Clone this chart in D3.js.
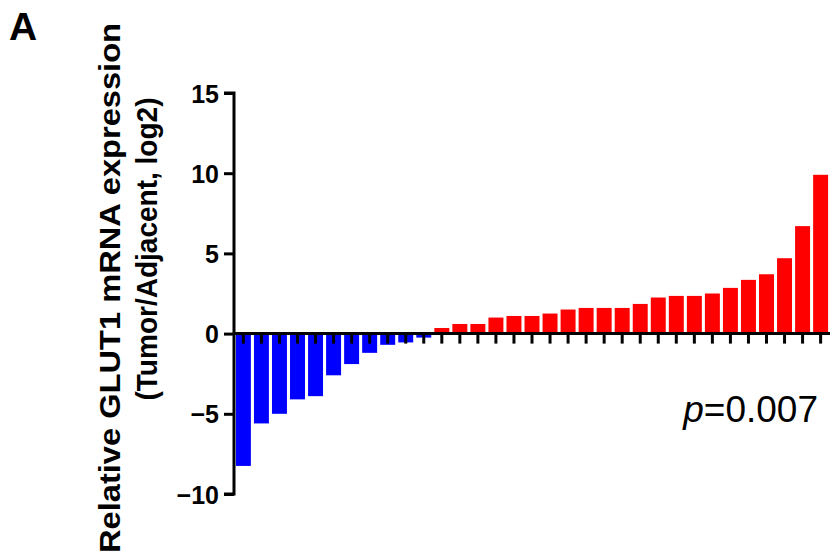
<!DOCTYPE html>
<html lang="en">
    <head>
        <meta charset="UTF-8" />
        <title>GLUT1 mRNA expression</title>
        <script src="https://cdn.jsdelivr.net/npm/d3@7"></script>
    </head>
    <body style="padding: 0; margin: 0; background-color: #fff;">
        <script>
            // 每个样本的 log2(肿瘤/癌旁) 值，已按大小排序
            const samples = d3.range(1, 34).map((d) => 'S' + d);
            const values = [
                -8.25, -5.6, -5.0, -4.1, -3.9, -2.6, -1.9, -1.2, -0.7, -0.55, -0.25,
                0.35, 0.6, 0.6, 1.0, 1.1, 1.1, 1.25, 1.5, 1.6, 1.6, 1.6,
                1.85, 2.25, 2.35, 2.35, 2.5, 2.85, 3.35, 3.7, 4.7, 6.7, 9.9
            ];
            const yTicks = [-10, -5, 0, 5, 10, 15];
            const pLabel = '0.007';

            const width = 836;
            const height = 559;
            const font = '"Liberation Sans", Arial, sans-serif';

            const svg = d3
                .select('body')
                .append('svg')
                .attr('width', width)
                .attr('height', height)
                .style('display', 'block')
                .style('font-family', font);

            const x = d3
                .scaleBand()
                .domain(samples)
                .range([235, 829])
                .paddingInner(0.17)
                .paddingOuter(0.05);

            const y = d3.scaleLinear().domain([-10, 15]).range([494, 93]);

            // 柱子
            svg.append('g')
                .selectAll('rect')
                .data(values)
                .join('rect')
                .attr('x', (d, i) => x(samples[i]))
                .attr('width', x.bandwidth())
                .attr('y', (d) => y(Math.max(0, d)))
                .attr('height', (d) => Math.abs(y(d) - y(0)))
                .attr('fill', (d) => (d < 0 ? '#0000ff' : '#ff0000'));

            // y 轴
            const yAxis = svg
                .append('g')
                .attr('transform', 'translate(234,0)')
                .call(d3.axisLeft(y).tickValues(yTicks).tickSize(10).tickPadding(5));
            yAxis.select('.domain')
                .attr('d', `M-10,${y(15)}H0V${y(-10)}H-10`)
                .attr('stroke', '#000')
                .attr('stroke-width', 3)
                .attr('fill', 'none');
            yAxis.selectAll('.tick line').attr('stroke', '#000').attr('stroke-width', 3);
            yAxis.selectAll('.tick text')
                .attr('fill', '#000')
                .style('font-family', font)
                .style('font-size', '25px')
                .style('font-weight', 'bold')
                .attr('dy', '0.36em');

            // x 轴（零线）与刻度
            const xAxis = svg
                .append('g')
                .attr('transform', `translate(0,${y(0)})`)
                .call(d3.axisBottom(x).tickSize(10).tickFormat(''));
            xAxis.select('.domain')
                .attr('d', `M233,0H${x.range()[1] + 1}`)
                .attr('stroke', '#000')
                .attr('stroke-width', 3);
            xAxis.selectAll('.tick line').attr('stroke', '#000').attr('stroke-width', 3);

            // y 轴标题（两行）
            svg.append('text')
                .attr('transform', 'translate(120,288) rotate(-90)')
                .attr('text-anchor', 'middle')
                .attr('textLength', 530)
                .attr('lengthAdjust', 'spacingAndGlyphs')
                .style('font-size', '29px')
                .style('font-weight', 'bold')
                .text('Relative GLUT1 mRNA expression');
            svg.append('text')
                .attr('transform', 'translate(157,249) rotate(-90)')
                .attr('text-anchor', 'middle')
                .attr('textLength', 303)
                .attr('lengthAdjust', 'spacingAndGlyphs')
                .style('font-size', '29px')
                .style('font-weight', 'bold')
                .text('(Tumor/Adjacent, log2)');

            // p 值
            const pText = svg
                .append('text')
                .attr('x', 818)
                .attr('y', 422)
                .attr('text-anchor', 'end')
                .style('font-size', '37px');
            pText.append('tspan').style('font-style', 'italic').text('p');
            pText.append('tspan').text('=' + pLabel);

            // 面板标记
            svg.append('text')
                .attr('x', 9)
                .attr('y', 40)
                .style('font-size', '39px')
                .style('font-weight', 'bold')
                .text('A');
        </script>
    </body>
</html>
